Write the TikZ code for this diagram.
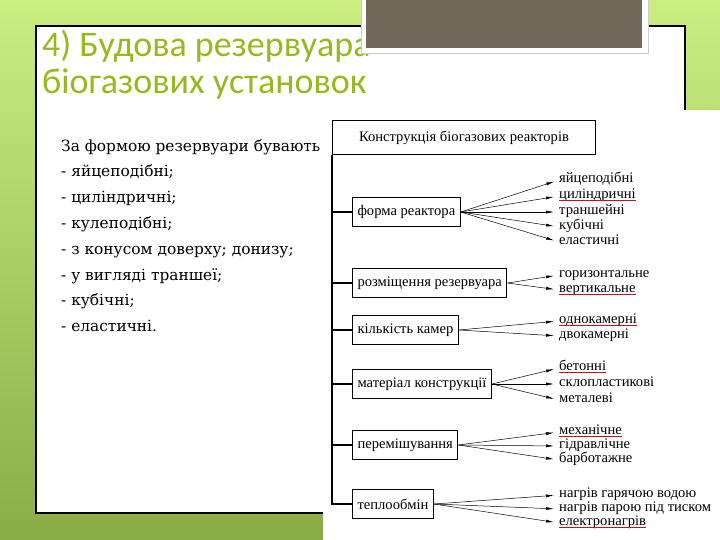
\documentclass[tikz,border=0pt]{standalone}
\usepackage{fontspec}
\setmainfont{Liberation Serif}
\newfontfamily\titlefont{Carlito}
\newfontfamily\bodyfont{DejaVu Serif}
\usetikzlibrary{arrows.meta}
\definecolor{slidegreen}{RGB}{150,185,30}
\definecolor{bglight}{RGB}{202,238,128}
\definecolor{bgdark}{RGB}{140,172,70}
\definecolor{photogray}{RGB}{112,104,90}
\definecolor{spellred}{RGB}{190,20,30}

\begin{document}
\begin{tikzpicture}[x=1pt, y=-1pt,
        partbox/.style={draw, line width=1pt, inner xsep=5pt, minimum height=29pt, anchor=west, font=\fontsize{14.6}{16}\selectfont},
        kind/.style={anchor=west, inner sep=0pt, text height=7pt, text depth=2pt, font=\fontsize{14.6}{15}\selectfont},
        fan/.style={-{Latex[length=8pt,width=3pt]}, shorten >=5pt, line width=0.5pt},
        spellmark/.style={spellred, line width=1.3pt}]
                \useasboundingbox (0,0) rectangle (720,540);
                % slide background and frame
                \shade[top color=bglight, bottom color=bgdark] (0,0) rectangle (720,540);
                \draw[fill=white, line width=1.2pt] (36,26) rectangle (685,513);
                \fill[white] (323,110) rectangle (720,540);

                \node[anchor=base west, inner sep=0pt, text=slidegreen, font=\titlefont\fontsize{36}{37}\selectfont](title1) at (42,57) {4) Будова резервуара};
                \node[anchor=base west, inner sep=0pt, text=slidegreen, font=\titlefont\fontsize{36}{37}\selectfont](title2) at (42,94) {біогазових установок};
                \fill[white] (361,-1) rectangle (648,53);
                \draw[gray!40] (361,-1) -- (361,53) -- (648,53) -- (648,-1);
                \fill[photogray] (366,-1) rectangle (642,48);

                \node[anchor=north west, inner sep=0pt, align=left, font=\bodyfont\fontsize{15.4}{25.8}\selectfont](forms) at (61,139) {За формою резервуари бувають\\- яйцеподібні;\\- циліндричні;\\- кулеподібні;\\- з конусом доверху; донизу;\\- у вигляді траншеї;\\- кубічні;\\- еластичні.};

                % scheme
                \node[draw, line width=1pt, minimum width=263pt, minimum height=34pt, anchor=north west, font=\fontsize{14.6}{16}\selectfont](top) at (332,120) {Конструкція біогазових реакторів};

                \node[partbox](forma) at (352,212) {форма реактора};
                \node[partbox](rozm) at (352,283) {розміщення резервуара};
                \node[partbox](kilk) at (352,330) {кількість камер};
                \node[partbox](mater) at (352,384) {матеріал конструкції};
                \node[partbox](perem) at (352,445) {перемішування};
                \node[partbox](teplo) at (352,504) {теплообмін};

                \draw[line width=1.2pt] (top.south west) |- (teplo.west);
                \foreach \b in {forma,rozm,kilk,mater,perem}
                        \draw[line width=1.2pt] (top.south west |- \b.west) -- (\b.west);

                \node[kind](yc) at (559,180) {яйцеподібні};
                \node[kind](cl) at (559,196) {циліндричні};
                \node[kind](tr) at (559,212) {траншейні};
                \node[kind](kb) at (559,227) {кубічні};
                \node[kind](el) at (559,242) {еластичні};

                \node[kind](hor) at (559,275) {горизонтальне};
                \node[kind](ver) at (559,290) {вертикальне};

                \node[kind](odn) at (559,321) {однокамерні};
                \node[kind](dvo) at (559,336) {двокамерні};

                \node[kind](bet) at (559,368) {бетонні};
                \node[kind](skl) at (559,384) {склопластикові};
                \node[kind](met) at (559,400) {металеві};

                \node[kind](mex) at (559,432) {механічне};
                \node[kind](gid) at (559,446) {гідравлічне};
                \node[kind](bar) at (559,460) {барботажне};

                \node[kind](vod) at (559,495) {нагрів гарячою водою};
                \node[kind](par) at (559,509) {нагрів парою під тиском};
                \node[kind](ele) at (559,523) {електронагрів};

                \foreach \t in {yc,cl,tr,kb,el} \draw[fan] (forma.east) -- (\t.west);
                \foreach \t in {hor,ver} \draw[fan] (rozm.east) -- (\t.west);
                \foreach \t in {odn,dvo} \draw[fan] (kilk.east) -- (\t.west);
                \foreach \t in {bet,skl,met} \draw[fan] (mater.east) -- (\t.west);
                \foreach \t in {mex,gid,bar} \draw[fan] (perem.east) -- (\t.west);
                \foreach \t in {vod,par,ele} \draw[fan] (teplo.east) -- (\t.west);

                % spell-check marks
                \foreach \t in {cl,ver,odn,bet,mex,ele}
                        \draw[spellmark] ([yshift=-2pt]\t.base west) -- ([yshift=-2pt]\t.base east);
\end{tikzpicture}
\end{document}
